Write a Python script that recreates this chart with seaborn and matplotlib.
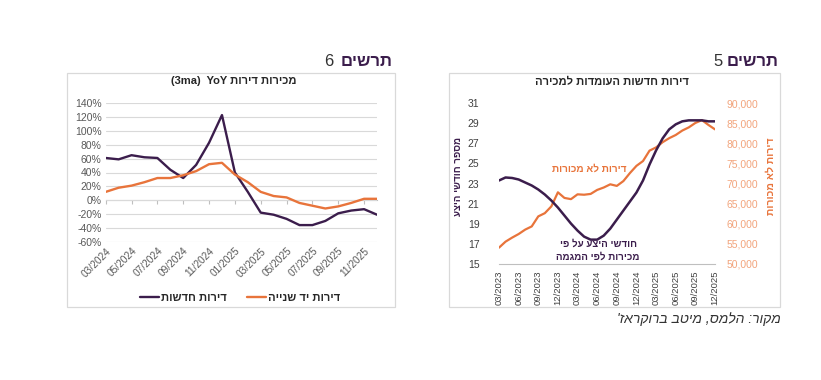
import numpy as np
import pandas as pd
import seaborn as sns
import matplotlib.pyplot as plt
from matplotlib.patches import Rectangle

# ---- data: chart 6 (YoY sales, 3ma) ----
months_left = ['03/2024', '04/2024', '05/2024', '06/2024', '07/2024', '08/2024', '09/2024',
               '10/2024', '11/2024', '12/2024', '01/2025', '02/2025', '03/2025', '04/2025',
               '05/2025', '06/2025', '07/2025', '08/2025', '09/2025', '10/2025', '11/2025',
               '12/2025']
new_yoy = [61, 59, 65, 62, 61, 44, 32, 51, 83, 123, 40, 12, -18, -21, -27, -36, -36, -30,
           -19, -15, -13, -21]
used_yoy = [12, 18, 21, 26, 32, 32, 36, 42, 52, 54, 37, 26, 12, 6, 4, -4, -8, -12, -9,
            -4, 2, 2]
left_ticks = [-60, -40, -20, 0, 20, 40, 60, 80, 100, 120, 140]

# ---- data: chart 5 (new dwellings for sale) ----
months_right = ['03/2023', '04/2023', '05/2023', '06/2023', '07/2023', '08/2023', '09/2023',
                '10/2023', '11/2023', '12/2023', '01/2024', '02/2024', '03/2024', '04/2024',
                '05/2024', '06/2024', '07/2024', '08/2024', '09/2024', '10/2024', '11/2024',
                '12/2024', '01/2025', '02/2025', '03/2025', '04/2025', '05/2025', '06/2025',
                '07/2025', '08/2025', '09/2025', '10/2025', '11/2025', '12/2025']
supply_months = [23.3, 23.6, 23.55, 23.4, 23.1, 22.8, 22.4, 21.9, 21.3, 20.6, 19.8, 19.0,
                 18.3, 17.7, 17.4, 17.4, 17.8, 18.5, 19.4, 20.3, 21.2, 22.1, 23.3, 24.9,
                 26.3, 27.5, 28.4, 28.9, 29.2, 29.3, 29.3, 29.3, 29.2, 29.2]
unsold = [54000, 55500, 56500, 57400, 58500, 59300, 61800, 62600, 64300, 67800, 66400,
          66100, 67300, 67200, 67400, 68400, 69000, 69800, 69400, 70600, 72600, 74400,
          75600, 78200, 79000, 80300, 81300, 82100, 83200, 84000, 85100, 85800, 84600,
          83500]
right_left_ticks = [15, 17, 19, 21, 23, 25, 27, 29, 31]
right_right_ticks = [50000, 55000, 60000, 65000, 70000, 75000, 80000, 85000, 90000]

PURPLE = '#3b1d4c'
ORANGE = '#e8743b'
ORANGE_LIGHT = '#f2a47c'
GRID = '#d9d9d9'
TXT = '#404040'

sns.set_theme(style='white')
plt.rcParams['font.family'] = ['Liberation Sans', 'DejaVu Sans']

W, H = 821, 380


def heb(s):
    # matplotlib has no bidi: lay Hebrew out visually
    return s[::-1]


def fx(px):
    return px / W


def fy(py):
    return 1 - py / H


fig = plt.figure(figsize=(W / 100, H / 100), dpi=100)
fig.patch.set_facecolor('white')

# panel frames
for x0, x1 in [(67, 395), (449, 780)]:
    fig.patches.append(Rectangle((fx(x0), fy(307)), fx(x1 - x0), (307 - 73) / H,
                                 transform=fig.transFigure, fill=False,
                                 edgecolor=GRID, lw=0.9))

# headers
for right_px, num_px, num in [(393, 333, '6'), (779, 723, '5')]:
    fig.text(fx(right_px), fy(61), heb('תרשים'), ha='right', va='center',
             fontsize=12, fontweight='bold', color=PURPLE)
    fig.text(fx(num_px), fy(61), num, ha='right', va='center', fontsize=12, color='#333333')

# ---------------- chart 6 ----------------
df_l = pd.DataFrame({'pos': range(len(months_left)), 'month': months_left,
                     'new': new_yoy, 'used': used_yoy})
ax = fig.add_axes([fx(105.7), fy(241.7), fx(377 - 105.7), (241.7 - 103.3) / H])
sns.lineplot(data=df_l, x='pos', y='new', ax=ax, color=PURPLE, lw=1.7,
             label=heb('דירות חדשות'))
sns.lineplot(data=df_l, x='pos', y='used', ax=ax, color=ORANGE, lw=1.7,
             label=heb('דירות יד שנייה'))
ax.set_xlim(0, len(months_left) - 1)
ax.set_ylim(-60, 140)
ax.set_yticks(left_ticks)
ax.set_yticklabels([f'{v}%' for v in left_ticks], fontsize=7.5, color='#595959')
ax.yaxis.grid(True, color=GRID, lw=0.8)
ax.xaxis.grid(False)
tick_pos = list(range(0, len(months_left), 2))
ax.set_xticks(tick_pos)
ax.set_xticklabels([months_left[i] for i in tick_pos], rotation=45, ha='right',
                   rotation_mode='anchor', fontsize=7.3, color='#595959')
ax.tick_params(axis='both', length=0, pad=3)
ax.set_xlabel('')
ax.set_ylabel('')
for s in ax.spines.values():
    s.set_visible(False)
# category axis crossing at 0%
sec = ax.secondary_xaxis(0.3)
sec.set_xticks(tick_pos)
sec.set_xticklabels([])
sec.tick_params(length=3, color='#bfbfbf', width=0.8)
sec.spines['bottom'].set_color('#bfbfbf')
sec.spines['bottom'].set_linewidth(0.8)
ax.legend(loc='center', bbox_to_anchor=(fx(240), fy(298)), bbox_transform=fig.transFigure,
          ncol=2, frameon=False, handlelength=1.7, handletextpad=0.2, columnspacing=1.8,
          prop={'weight': 'bold', 'size': 8})
fig.text(fx(234), fy(81), '(3ma)  YoY ' + heb('מכירות דירות'), ha='center', va='center',
         fontsize=8, fontweight='bold', color='#262626')

# ---------------- chart 5 ----------------
df_r = pd.DataFrame({'pos': range(len(months_right)), 'month': months_right,
                     'supply': supply_months, 'unsold': unsold})
axr = fig.add_axes([fx(499), fy(263.7), fx(715 - 499), (263.7 - 103.3) / H])
axr2 = axr.twinx()
sns.lineplot(data=df_r, x='pos', y='unsold', ax=axr2, color=ORANGE, lw=1.6)
sns.lineplot(data=df_r, x='pos', y='supply', ax=axr, color=PURPLE, lw=1.8)
axr.set_zorder(axr2.get_zorder() + 1)
axr.patch.set_visible(False)
axr.set_xlim(0, len(months_right) - 1)
axr.set_ylim(15, 31)
axr2.set_ylim(50000, 90000)
axr.set_yticks(right_left_ticks)
axr.set_yticklabels([str(v) for v in right_left_ticks], fontsize=7.5, color=TXT)
axr2.set_yticks(right_right_ticks)
axr2.set_yticklabels([f'{v:,}' for v in right_right_ticks], fontsize=7.5,
                     color=ORANGE_LIGHT)
q_pos = list(range(0, len(months_right), 3))
axr.set_xticks(q_pos)
axr.set_xticklabels([months_right[i] for i in q_pos], rotation=90, fontsize=6.8, color=TXT)
axr.tick_params(axis='y', length=0, pad=14)
axr2.tick_params(axis='y', length=0, pad=8)
axr.tick_params(axis='x', length=3, color='#bfbfbf', width=0.8, pad=2)
for a in (axr, axr2):
    a.grid(False)
    a.set_xlabel('')
    a.set_ylabel('')
    for s in a.spines.values():
        s.set_visible(False)
axr.spines['bottom'].set_visible(True)
axr.spines['bottom'].set_color('#bfbfbf')
axr.spines['bottom'].set_linewidth(0.8)

fig.text(fx(612), fy(82), heb('דירות חדשות העומדות למכירה'), ha='center', va='center',
         fontsize=8, fontweight='bold', color='#262626')
fig.text(fx(458), fy(176), heb('מספר חודשי היצע'), rotation=90, ha='center', va='center',
         fontsize=7, fontweight='bold', color=PURPLE)
fig.text(fx(771), fy(176), heb('דירות לא מכורות'), rotation=90, ha='center', va='center',
         fontsize=7.5, fontweight='bold', color=ORANGE)
fig.text(fx(589), fy(169), heb('דירות לא מכורות'), ha='center', va='center',
         fontsize=7.2, fontweight='bold', color=ORANGE)
fig.text(fx(598), fy(250), heb('חודשי היצע על פי') + '\n' + heb('מכירות לפי המגמה'),
         ha='center', va='center', fontsize=7, fontweight='bold', color=PURPLE,
         linespacing=1.3)

# source
fig.text(fx(781), fy(319), heb("מקור: הלמס, מיטב ברוקראז'"), ha='right', va='center',
         fontsize=10, style='italic', color='#333333')

fig.savefig('out.png', dpi=100, facecolor='white')
